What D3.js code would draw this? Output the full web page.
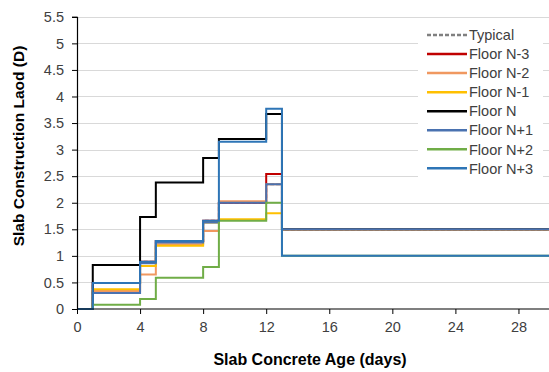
<!DOCTYPE html>
<html><head><meta charset="utf-8">
<script src="https://cdn.jsdelivr.net/npm/d3@7"></script>
<style>
body{margin:0;background:#fff}
svg{display:block}
text{font-family:"Liberation Sans",Arial,sans-serif}
</style>
</head><body>
<svg id="chart" width="549" height="372"></svg>
<script>
// ---- data ----
const ages = [0, 1, 4, 5, 8, 9, 12, 13, 30];
const seriesNames = ["Typical","Floor N-3","Floor N-2","Floor N-1","Floor N","Floor N+1","Floor N+2","Floor N+3"];
const typical = [0, 0.49, 0.89, 1.28, 1.66, 2.00, 2.35, 1.5];
const floorNm3 = [0, 0.49, 0.89, 1.28, 1.66, 2.00, 2.54, 1.5];
const floorNm2 = [0, 0.34, 0.65, 1.22, 1.47, 2.03, 2.35, 1.5];
const floorNm1 = [0, 0.37, 0.81, 1.19, 1.63, 1.69, 1.80, 1.5];
const floorN   = [0, 0.83, 1.73, 2.38, 2.84, 3.20, 3.67, 1.5];
const floorNp1 = [0, 0.30, 0.86, 1.25, 1.63, 2.00, 2.35, 1.5];
const floorNp2 = [0, 0.08, 0.19, 0.59, 0.79, 1.66, 2.00, 1.0];
const floorNp3 = [0, 0.49, 0.89, 1.28, 1.66, 3.15, 3.77, 1.0];
const xTickValues = [0, 4, 8, 12, 16, 20, 24, 28];
const yTickValues = [0, 0.5, 1, 1.5, 2, 2.5, 3, 3.5, 4, 4.5, 5, 5.5];
const xTitle = "Slab Concrete Age (days)";
const yTitle = "Slab Construction Laod (D)";

const allSeries = [typical, floorNm3, floorNm2, floorNm1, floorN, floorNp1, floorNp2, floorNp3];
const colors = ["#808080","#C00000","#F09860","#FFC000","#000000","#4A72B0","#70AD47","#2E75B6"];
const dashes = ["4,2",null,null,null,null,null,null,null];

// ---- layout ----
const svg = d3.select("#chart");
const x = d3.scaleLinear().domain([0, 30]).range([77, 550]);
const y = d3.scaleLinear().domain([0, 5.5]).range([309, 16.8]);

// gridlines
svg.append("g").selectAll("line").data(yTickValues.filter(v => v > 0)).join("line")
  .attr("x1", 77).attr("x2", 549)
  .attr("y1", d => Math.round(y(d)) + 0.5).attr("y2", d => Math.round(y(d)) + 0.5)
  .attr("stroke", "#D9D9D9").attr("stroke-width", 1);

// legend background
svg.append("rect").attr("x", 418).attr("y", 22).attr("width", 125).attr("height", 156).attr("fill", "#fff");

// series
const line = d3.line().x((d, i) => x(ages[i])).y(d => y(d)).curve(d3.curveStepAfter);
allSeries.forEach((s, k) => {
  const pts = s.concat([s[s.length - 1]]);
  svg.append("path").datum(pts)
    .attr("d", line)
    .attr("fill", "none")
    .attr("stroke", colors[k])
    .attr("stroke-width", 2)
    .attr("stroke-dasharray", dashes[k]);
});

// axes
const xAxis = svg.append("g").attr("transform", "translate(0,309)")
  .call(d3.axisBottom(x).tickValues(xTickValues).tickSize(5).tickPadding(8).tickFormat(d3.format("d")));
const yAxis = svg.append("g").attr("transform", "translate(77,0)")
  .call(d3.axisLeft(y).tickValues(yTickValues).tickSize(5).tickPadding(8).tickFormat(d => String(d)));
[xAxis, yAxis].forEach(g => {
  g.select(".domain").attr("stroke", "#000").attr("stroke-width", 1.2);
  g.selectAll(".tick line").attr("stroke", "#000");
  g.selectAll(".tick text").attr("fill", "#404040").attr("font-size", 14.5)
    .attr("font-family", '"Liberation Sans",Arial,sans-serif');
});
xAxis.select(".domain").attr("d", "M77,0H549");

// titles
svg.append("text").attr("x", 310).attr("y", 365).attr("text-anchor", "middle")
  .attr("font-size", 16).attr("font-weight", "bold").attr("fill", "#000").text(xTitle);
svg.append("text").attr("transform", "translate(24,146) rotate(-90)").attr("text-anchor", "middle")
  .attr("font-size", 15.5).attr("font-weight", "bold").attr("fill", "#000").text(yTitle);

// legend
const lg = svg.append("g");
seriesNames.forEach((name, k) => {
  const yy = 35 + k * 19.05;
  lg.append("line").attr("x1", 427).attr("x2", 467).attr("y1", yy).attr("y2", yy)
    .attr("stroke", colors[k]).attr("stroke-width", 2.5).attr("stroke-dasharray", dashes[k]);
  lg.append("text").attr("x", 469).attr("y", yy).attr("dy", "0.36em")
    .attr("font-size", 14.5).attr("fill", "#404040").text(name);
});
</script>
</body></html>
